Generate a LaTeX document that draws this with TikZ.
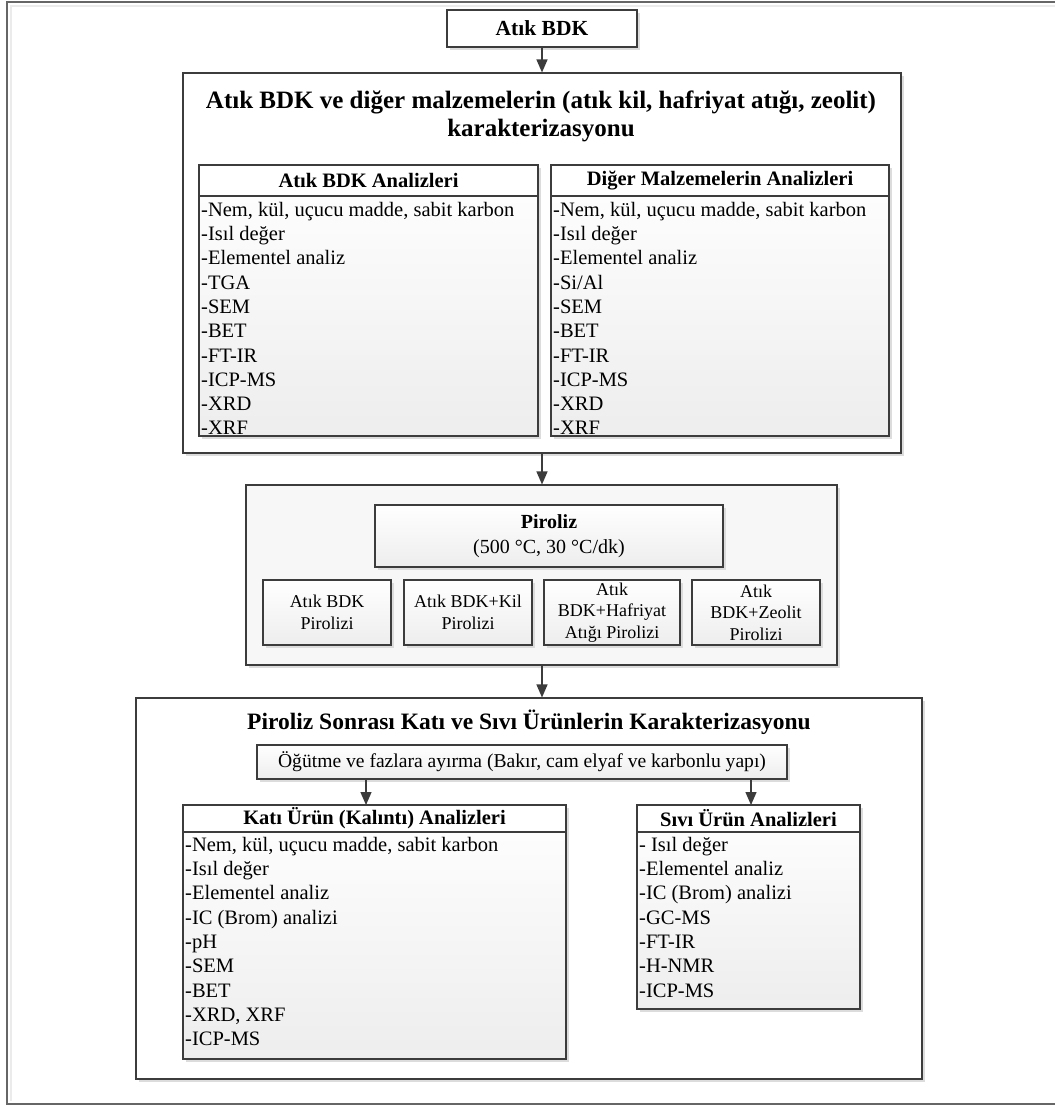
\documentclass[tikz,border=0pt]{standalone}
\usepackage{fontspec}
\setmainfont{Liberation Serif}
\usetikzlibrary{arrows.meta,shadows,shadings}
\definecolor{edge}{HTML}{3C3C3C}
\definecolor{shadowc}{HTML}{DCDCDC}
\newcommand{\bodyfs}{\fontsize{20.5}{24.3}\selectfont}
\newcommand{\smallfs}{\fontsize{18}{21.5}\selectfont}
\newcommand{\rectnode}[7]{%
  \pgfmathsetmacro{\rcx}{(#3+#5)/2}\pgfmathsetmacro{\rcy}{(#4+#6)/2}%
  \pgfmathsetmacro{\rcw}{#5-#3}\pgfmathsetmacro{\rch}{#6-#4}%
  \node[#2, minimum width=\rcw pt, minimum height=\rch pt, inner sep=0pt] (#1) at (\rcx,\rcy) {#7};}
\begin{document}
\begin{tikzpicture}[x=1pt,y=-1pt,
  boxline/.style={draw=edge, line width=1.1pt},
  shad/.style={drop shadow={shadow xshift=3pt,shadow yshift=-3pt,fill=shadowc,opacity=1}},
  plainbox/.style={boxline, fill=white, shad},
  greybox/.style={boxline, fill=black!3, shad},
  gradbox/.style={boxline, top color=white, bottom color=black!7, shad},
  listtext/.style={anchor=north west, inner sep=0pt, align=left, font=\bodyfs},
  arr/.style={draw=edge, line width=1.3pt, -{Triangle[length=13pt,width=11pt]}},
  frameline/.style={draw=black!60, line width=1.4pt}
]
\useasboundingbox (0,0) rectangle (1055,1106);
% outer frame
\draw[black!8, line width=2pt] (1060,5.5) -- (10.5,5.5) -- (10.5,1101);
\draw[frameline] (1060,2) -- (7,2) -- (7,1104) -- (1060,1104);

% top box
\rectnode{atik}{plainbox, font=\fontsize{21.5}{24}\selectfont\bfseries}{447}{10}{637}{47}{Atık BDK}

% box 1
\rectnode{box1}{plainbox}{183}{73}{901}{453}{}
\node[font=\fontsize{25}{28}\selectfont\bfseries, align=center, inner sep=0pt] (t1) at (541,116)
  {Atık BDK ve diğer malzemelerin (atık kil, hafriyat atığı, zeolit)\\karakterizasyonu};

% left table
\rectnode{lbody}{gradbox}{199}{165}{538}{436}{}
\rectnode{lhead}{boxline, fill=white, font=\bodyfs\bfseries}{199}{165}{538}{196}{Atık BDK Analizleri}
\node[listtext] (ltext) at (201,199) {\strut-Nem, kül, uçucu madde, sabit karbon\\\strut-Isıl değer\\\strut-Elementel analiz\\\strut-TGA\\\strut-SEM\\\strut-BET\\\strut-FT-IR\\\strut-ICP-MS\\\strut-XRD\\\strut-XRF};

% right table
\rectnode{rbody}{gradbox}{551}{165}{889}{436}{}
\rectnode{rhead}{boxline, fill=white, font=\bodyfs\bfseries}{551}{165}{889}{196}{Diğer Malzemelerin Analizleri}
\node[listtext] (rtext) at (553,199) {\strut-Nem, kül, uçucu madde, sabit karbon\\\strut-Isıl değer\\\strut-Elementel analiz\\\strut-Si/Al\\\strut-SEM\\\strut-BET\\\strut-FT-IR\\\strut-ICP-MS\\\strut-XRD\\\strut-XRF};

% piroliz box
\rectnode{pir}{greybox}{246}{485}{837}{665}{}
\rectnode{pirt}{gradbox, align=center, font=\fontsize{20}{25}\selectfont}{375}{505}{723}{567}{\textbf{Piroliz}\\(500 °C, 30 °C/dk)}
\rectnode{p1}{gradbox, align=center, font=\smallfs}{263}{580}{391}{645}{Atık BDK\\Pirolizi}
\rectnode{p2}{gradbox, align=center, font=\smallfs}{404}{580}{532}{645}{Atık BDK+Kil\\Pirolizi}
\rectnode{p3}{gradbox, align=center, font=\smallfs}{544}{580}{680}{645}{Atık\\BDK+Hafriyat\\Atığı Pirolizi}
\rectnode{p4}{gradbox, align=center, font=\smallfs}{692}{580}{820}{645}{Atık\\BDK+Zeolit\\Pirolizi}

% bottom box
\rectnode{box3}{plainbox}{136}{698}{922}{1079}{}
\node[font=\fontsize{23.5}{28}\selectfont\bfseries, inner sep=0pt] (t3) at (529,722) {Piroliz Sonrası Katı ve Sıvı Ürünlerin Karakterizasyonu};
\rectnode{ogut}{gradbox, font=\fontsize{19.6}{24}\selectfont}{257}{745}{787}{779}{Öğütme ve fazlara ayırma (Bakır, cam elyaf ve karbonlu yapı)}

\rectnode{kbody}{gradbox}{183}{805}{566}{1059}{}
\rectnode{khead}{boxline, fill=white, font=\bodyfs\bfseries}{183}{805}{566}{832}{Katı Ürün (Kalıntı) Analizleri}
\node[listtext] (ktext) at (185,834) {\strut-Nem, kül, uçucu madde, sabit karbon\\\strut-Isıl değer\\\strut-Elementel analiz\\\strut-IC (Brom) analizi\\\strut-pH\\\strut-SEM\\\strut-BET\\\strut-XRD, XRF\\\strut-ICP-MS};

\rectnode{sbody}{gradbox}{637}{805}{860}{1009}{}
\rectnode{shead}{boxline, fill=white, font=\bodyfs\bfseries}{637}{805}{860}{832}{Sıvı Ürün Analizleri}
\node[listtext] (stext) at (639,834) {\strut- Isıl değer\\\strut-Elementel analiz\\\strut-IC (Brom) analizi\\\strut-GC-MS\\\strut-FT-IR\\\strut-H-NMR\\\strut-ICP-MS};

% arrows
\coordinate (ka) at (366,805);
\coordinate (sa) at (751,805);
\draw[arr] (atik.south) -- (atik.south |- box1.north);
\draw[arr] (atik.south |- box1.south) -- (atik.south |- pir.north);
\draw[arr] (atik.south |- pir.south) -- (atik.south |- box3.north);
\draw[arr] (ogut.south -| ka) -- (ka);
\draw[arr] (ogut.south -| sa) -- (sa);
\end{tikzpicture}
\end{document}
